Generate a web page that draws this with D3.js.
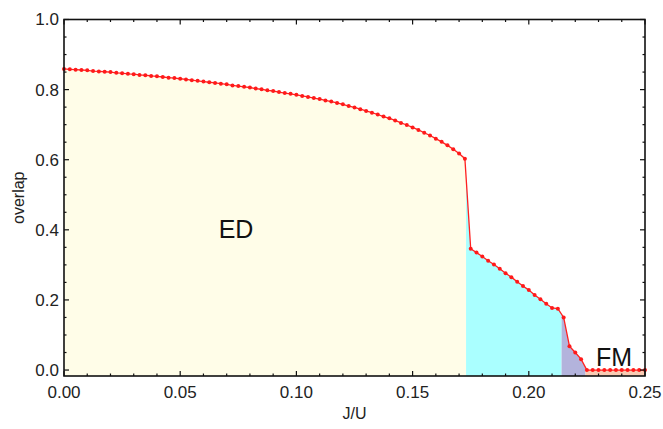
<!DOCTYPE html>
<html>
<head>
<meta charset="utf-8">
<script src="https://cdn.jsdelivr.net/npm/d3@7"></script>
<style>
  html, body { margin: 0; padding: 0; background: #fff; }
  svg { display: block; font-family: "Liberation Sans", Arial, sans-serif; }
</style>
</head>
<body>
<svg id="chart" width="663" height="429"></svg>
<script>
// J/U grid step and overlap values (one per grid point)
const jStep = 0.0025;
const overlapED = [
    0.859, 0.858, 0.857, 0.856, 0.855, 0.853, 0.852, 0.851, 0.850, 0.848,
    0.847, 0.845, 0.844, 0.842, 0.841, 0.839, 0.838, 0.836, 0.834, 0.833,
    0.831, 0.829, 0.827, 0.825, 0.823, 0.821, 0.819, 0.817, 0.815, 0.812,
    0.810, 0.808, 0.806, 0.803, 0.801, 0.798, 0.796, 0.793, 0.790, 0.788,
    0.785, 0.782, 0.779, 0.776, 0.773, 0.769, 0.766, 0.762, 0.758, 0.753,
    0.749, 0.744, 0.739, 0.734, 0.729, 0.723, 0.718, 0.712, 0.705, 0.699,
    0.692, 0.685, 0.677, 0.669, 0.660, 0.651, 0.641, 0.630, 0.618, 0.603
];
const overlapMid = [
    0.346, 0.335, 0.324, 0.312, 0.301, 0.289, 0.276, 0.265, 0.252, 0.240,
    0.228, 0.214, 0.202, 0.189, 0.177, 0.175
];
const overlapEdge = [0.150, 0.068, 0.050, 0.031];
const overlapFM = [0, 0, 0, 0, 0, 0, 0, 0, 0, 0, 0];

// phase regions (J/U boundaries) and fill colours
const phaseNames = ["ED", "mid", "edge", "FM"];
const phaseBounds = [0, 0.173, 0.2141, 0.2244, 0.25];
const phaseColors = ["#fffde8", "#aaffff", "#b3b3dc", "#f9cbb3"];

const xTicks = [0, 0.05, 0.10, 0.15, 0.20, 0.25];
const yTicks = [0, 0.2, 0.4, 0.6, 0.8, 1.0];

const overlap = overlapED.concat(overlapMid, overlapEdge, overlapFM);
const data = overlap.map((v, i) => ({ j: i * jStep, v: v }));

const margin = { top: 19.5, right: 18, bottom: 53, left: 64 };
const width = 663, height = 429;
const innerW = width - margin.left - margin.right;
const innerH = height - margin.top - margin.bottom;

const svg = d3.select("#chart");

const x = d3.scaleLinear().domain([0, 0.25]).range([margin.left, margin.left + innerW]);
const y = d3.scaleLinear().domain([-0.017, 1.0]).range([margin.top + innerH, margin.top]);

// fills
const defs = svg.append("defs");
phaseNames.forEach((n, k) => {
    defs.append("clipPath")
        .attr("id", `clip-${n}`)
        .append("rect")
        .attr("x", x(phaseBounds[k]))
        .attr("y", margin.top)
        .attr("width", x(phaseBounds[k + 1]) - x(phaseBounds[k]))
        .attr("height", innerH);
});

const area = d3.area()
    .x(d => x(d.j))
    .y0(y(-0.017))
    .y1(d => y(d.v));

svg.append("g")
    .selectAll("path")
    .data(phaseNames)
    .join("path")
    .attr("clip-path", d => `url(#clip-${d})`)
    .attr("d", area(data))
    .attr("fill", (d, k) => phaseColors[k]);

// curve
const line = d3.line().x(d => x(d.j)).y(d => y(d.v));
svg.append("path")
    .attr("d", line(data))
    .attr("fill", "none")
    .attr("stroke", "#ff2020")
    .attr("stroke-width", 1.3);

svg.append("g")
    .selectAll("circle")
    .data(data)
    .join("circle")
    .attr("cx", d => x(d.j))
    .attr("cy", d => y(d.v))
    .attr("r", 2)
    .attr("fill", "#ff1a1a");

// frame with inward ticks
const x0 = margin.left, x1 = margin.left + innerW;
const y0 = margin.top + innerH, y1 = margin.top;

const xMinor = d3.range(0, 0.2501, 0.01);
const yMinor = d3.range(0, 1.0001, 0.05);

const tickG = svg.append("g").attr("stroke", "#111").attr("stroke-width", 1.2);
xMinor.forEach(t => {
    const major = xTicks.some(m => Math.abs(m - t) < 1e-6);
    const len = major ? 5 : 2.5;
    tickG.append("line").attr("x1", x(t)).attr("x2", x(t)).attr("y1", y0).attr("y2", y0 - len);
    tickG.append("line").attr("x1", x(t)).attr("x2", x(t)).attr("y1", y1).attr("y2", y1 + len);
});
yMinor.forEach(t => {
    const major = yTicks.some(m => Math.abs(m - t) < 1e-6);
    const len = major ? 5 : 2.5;
    tickG.append("line").attr("x1", x0).attr("x2", x0 + len).attr("y1", y(t)).attr("y2", y(t));
    tickG.append("line").attr("x1", x1).attr("x2", x1 - len).attr("y1", y(t)).attr("y2", y(t));
});

svg.append("rect")
    .attr("x", x0).attr("y", y1)
    .attr("width", innerW).attr("height", innerH)
    .attr("fill", "none")
    .attr("stroke", "#111")
    .attr("stroke-width", 1.6);

// tick labels
svg.append("g")
    .selectAll("text")
    .data(xTicks)
    .join("text")
    .attr("x", d => x(d))
    .attr("y", y0 + 22)
    .attr("text-anchor", "middle")
    .attr("font-size", 17)
    .attr("fill", "#222")
    .text(d => d3.format(".2f")(d));

svg.append("g")
    .selectAll("text")
    .data(yTicks)
    .join("text")
    .attr("x", x0 - 5)
    .attr("y", d => y(d))
    .attr("dy", "0.35em")
    .attr("text-anchor", "end")
    .attr("font-size", 17)
    .attr("fill", "#222")
    .text(d => d3.format(".1f")(d));

// axis titles
svg.append("text")
    .attr("x", (x0 + x1) / 2)
    .attr("y", 419)
    .attr("text-anchor", "middle")
    .attr("font-size", 16)
    .attr("fill", "#222")
    .text("J/U");

svg.append("text")
    .attr("transform", `translate(24, ${(y0 + y1) / 2}) rotate(-90)`)
    .attr("text-anchor", "middle")
    .attr("font-size", 16)
    .attr("fill", "#222")
    .text("overlap");

// phase labels
svg.append("text")
    .attr("x", 236).attr("y", 238)
    .attr("text-anchor", "middle")
    .attr("font-size", 25)
    .attr("fill", "#111")
    .text("ED");

svg.append("text")
    .attr("x", 614).attr("y", 366)
    .attr("text-anchor", "middle")
    .attr("font-size", 25)
    .attr("fill", "#111")
    .text("FM");
</script>
</body>
</html>
